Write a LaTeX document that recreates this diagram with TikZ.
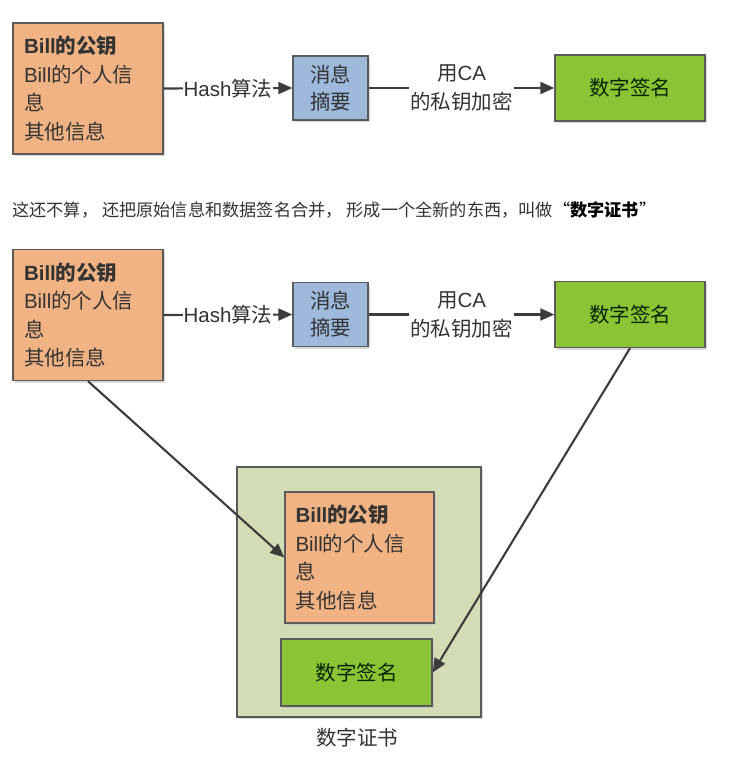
\documentclass[tikz,border=0pt]{standalone}
\usepackage{fontspec}
\setmainfont{Noto Sans CJK SC}
\newfontfamily\lat{Liberation Sans}
\usetikzlibrary{arrows.meta,shadows}
\definecolor{boxorange}{HTML}{F1B384}
\definecolor{boxblue}{HTML}{9EB9DC}
\definecolor{boxgreen}{HTML}{8BC535}
\definecolor{certbg}{HTML}{D3DDB5}
\definecolor{edgegray}{HTML}{5A5A5A}
\definecolor{arrowgray}{HTML}{3C3C3C}
\definecolor{txtgray}{HTML}{333333}
\begin{document}
\begin{tikzpicture}[x=1pt,y=-1pt,
  box/.style={draw=edgegray,line width=1.4pt,inner sep=0pt,
    drop shadow={shadow xshift=2pt,shadow yshift=-2pt,fill=black!25,opacity=0.6}},
  infobox/.style={box,fill=boxorange,minimum width=150pt,minimum height=131pt,
    text width=128pt,align=left,font=\fontsize{20.5}{28.5}\selectfont,text=txtgray},
  digestbox/.style={box,fill=boxblue,minimum width=75pt,minimum height=64pt,
    align=center,font=\fontsize{20.5}{27}\selectfont,text=txtgray},
  signbox/.style={box,fill=boxgreen,minimum width=150pt,minimum height=66pt,
    align=center,font=\fontsize{20.5}{27}\selectfont,text=black!75!green!60!black},
  conn/.style={draw=arrowgray,line width=2.1pt,-{Triangle[length=14pt,width=12pt]}},
  lbl/.style={fill=white,inner sep=1pt,font=\fontsize{20.5}{29}\selectfont,text=txtgray,align=center}
]
\useasboundingbox (0,0) rectangle (730,769);

% ---------- top diagram ----------
\node[infobox] (o1) at (88,88.5) {{\lat\bfseries Bill}\textbf{的公钥}\\{\lat Bill}的个人信\\息\\其他信息};
\node[digestbox] (b1) at (330.5,88) {消息\\摘要};
\node[signbox] (g1) at (630,88) {数字签名};
\draw[conn] (o1.east) -- node[lbl] {{\lat Hash}算法} (b1.west);
\draw[conn] (b1.east) -- node[lbl] {用{\lat CA}\\的私钥加密} (g1.west);

% ---------- sentence ----------
\node[anchor=west,inner sep=0pt,font=\fontsize{17.2}{19}\selectfont,text=txtgray] (txt) at (12,210)
  {这还不算， 还把原始信息和数据签名合并， 形成一个全新的东西，叫做\textcolor{black}{“\textbf{数字证书}”}};

% ---------- second diagram ----------
\node[infobox] (o2) at (88,315) {{\lat\bfseries Bill}\textbf{的公钥}\\{\lat Bill}的个人信\\息\\其他信息};
\node[digestbox] (b2) at (330.5,314.5) {消息\\摘要};
\node[signbox] (g2) at (630,314.5) {数字签名};
\draw[conn] (o2.east) -- node[lbl] {{\lat Hash}算法} (b2.west);
\draw[conn] (b2.east) -- node[lbl] {用{\lat CA}\\的私钥加密} (g2.west);

% certificate
\node[box,fill=certbg,minimum width=244pt,minimum height=250pt] (cert) at (359,592) {};
\node[infobox,minimum width=149pt] (io) at (359.5,557.5) {{\lat\bfseries Bill}\textbf{的公钥}\\{\lat Bill}的个人信\\息\\其他信息};
\node[signbox,minimum width=151pt,minimum height=67pt] (ig) at (356.5,672.5) {数字签名};
\node[font=\fontsize{20.5}{24}\selectfont,text=txtgray] (certlbl) at (357,738) {数字证书};

\draw[conn] (o2.south) -- (io.west);
\draw[conn] (g2.south) -- (ig.east);
\end{tikzpicture}
\end{document}
